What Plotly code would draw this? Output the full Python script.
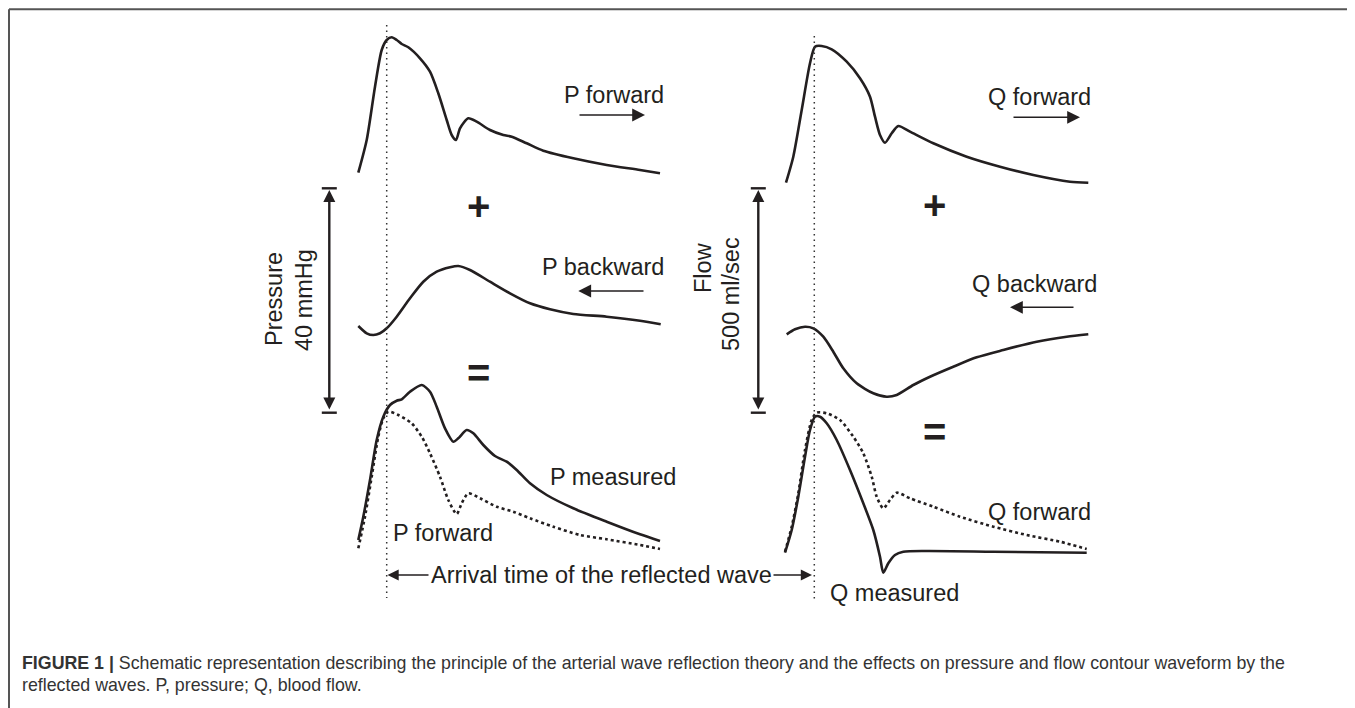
import plotly.graph_objects as go

# ---------------- data (pixel space of the page) ----------------
p_fwd_x = [358.3, 366.7, 375, 381.7, 386.7, 391.7, 396.7, 401.7, 408.3, 420, 430, 438.3, 446.7, 451.7, 456,
           460, 468.3, 476.7, 490, 503.3, 511.7, 526.7, 543.3, 573.3, 606.7, 640, 660]
p_fwd_y = [172.7, 140, 86.7, 50, 40, 37.3, 40, 44, 47.3, 58.3, 71.7, 93.3, 120, 135, 140,
           128.3, 118.3, 121.7, 130, 135, 136.7, 143.3, 150.7, 158.3, 165, 170, 173.3]

q_fwd_x = [786, 793.3, 801.7, 810, 815, 821.7, 831.7, 846.7, 860, 870, 875, 880, 885, 891.7, 898.3,
           910, 933.3, 966.7, 1000, 1033.3, 1070, 1088.3]
q_fwd_y = [182.7, 156.7, 110, 63.3, 46.7, 46, 49.3, 61.7, 78.3, 96.7, 116.7, 135, 142.7, 133.3, 126,
           131.7, 143.3, 156.7, 166.7, 175, 181.7, 182.7]

p_bwd_x = [358.3, 366.7, 373.3, 380, 386.7, 396.7, 410, 423.3, 436.7, 450, 458.3, 470, 490, 510, 530,
           550, 573.3, 606.7, 640, 660.7]
p_bwd_y = [326, 333.3, 335, 333.3, 328.3, 316.7, 298.3, 281.7, 271.7, 267.3, 266, 270, 281.7, 293.3, 303.3,
           309.3, 314, 316.7, 320.7, 324.3]

q_bwd_x = [786.7, 795, 805, 813.3, 823.3, 833.3, 843.3, 856.7, 873.3, 886.7, 896.7, 913.3, 930, 953.3,
           976.7, 1003.3, 1036.7, 1066.7, 1088.3]
q_bwd_y = [334.3, 329.3, 326.7, 328.3, 336.7, 351.7, 368.3, 383.3, 393.3, 396.7, 395, 385, 376.7, 366.7,
           357.3, 350, 341.7, 336.7, 334.3]

p_meas_x = [358.3, 363.3, 370, 376.7, 383.3, 390, 396.7, 401.7, 410, 421.7, 430, 436.7, 445, 453.3, 458.3,
            466.7, 473.3, 483.3, 495, 506.7, 516.7, 530, 546.7, 573.3, 606.7, 640, 660]
p_meas_y = [540, 516.7, 480, 440, 416.7, 405, 400.7, 399.3, 391.7, 385, 391.7, 406.7, 428.3, 441.7, 438.3,
            430, 433.3, 445, 456, 461.7, 470, 483.3, 495, 508.3, 521.7, 534.3, 541]

p_fwd2_x = [358.3, 365, 371.7, 378.3, 383.3, 388.3, 398.3, 411.7, 421.7, 430, 440, 448.3, 456.7, 461.7,
            468.3, 480, 496.7, 513.3, 530, 553.3, 580, 606.7, 640, 660]
p_fwd2_y = [548.3, 516.7, 476.7, 436.7, 418.3, 411.7, 415, 423.3, 436.7, 453.3, 476.7, 500, 514, 503.3,
            493.3, 498.3, 506.7, 511.7, 518.3, 526.7, 535, 539.3, 545, 549]

q_meas_x = [785, 791.7, 798.3, 805, 810, 815, 820, 826.7, 836.7, 850, 863.3, 873.3, 880, 883.3, 888.3,
            895, 903.3, 926.7, 993.3, 1086.7]
q_meas_y = [552.7, 530, 496.7, 456.7, 430, 416.7, 416.7, 423.3, 440, 470, 503.3, 530, 556.7, 572.7, 563.3,
            555, 551.7, 551, 551.7, 552.7]

q_fwd2_x = [785, 791.7, 798.3, 805, 811.7, 816.7, 826.7, 840, 853.3, 863.3, 871.7, 876.7, 883.3, 890,
            896.7, 910, 933.3, 960, 993.3, 1026.7, 1060, 1086.7]
q_fwd2_y = [551.7, 526.7, 493.3, 450, 420, 412.7, 413.3, 420, 436.7, 453.3, 476.7, 496.7, 508.3, 500,
            492.7, 498.3, 506.7, 516.7, 526.7, 535, 541.7, 549]

scale_labels = ["Pressure", "40 mmHg", "Flow", "500 ml/sec"]
curve_labels = ["P forward", "Q forward", "P backward", "Q backward",
                "P measured", "P forward", "Q forward", "Q measured"]
arrival_label = "Arrival time of the reflected wave"
caption_1 = ("<b>FIGURE 1 |</b> Schematic representation describing the principle of the arterial wave "
             "reflection theory and the effects on pressure and flow contour waveform by the")
caption_2 = "reflected waves. P, pressure; Q, blood flow."

# ---------------- styles ----------------
INK = "#231f20"
FONT = "Liberation Sans, Arial, Helvetica, sans-serif"
LW = 2.6
LABEL_SIZE = 23.5
PAGE_OFFSET = 8  # default body margin of the html page

fig = go.Figure()


def curve(x, y, dotted=False):
    fig.add_trace(go.Scatter(
        x=x, y=y, mode="lines", hoverinfo="skip", showlegend=False,
        line=dict(color=INK, width=LW, shape="spline", smoothing=0.7,
                  dash="3px,3px" if dotted else "solid")))


curve(p_fwd_x, p_fwd_y)
curve(q_fwd_x, q_fwd_y)
curve(p_bwd_x, p_bwd_y)
curve(q_bwd_x, q_bwd_y)
curve(p_fwd2_x, p_fwd2_y, dotted=True)
curve(p_meas_x, p_meas_y)
curve(q_fwd2_x, q_fwd2_y, dotted=True)
curve(q_meas_x, q_meas_y)

shapes = []
# frame
shapes.append(dict(type="line", x0=9, x1=1355, y0=9.2, y1=9.2, line=dict(color="#555", width=2)))
shapes.append(dict(type="line", x0=9, x1=9, y0=9.2, y1=708, line=dict(color="#555", width=2)))
# dotted vertical time markers
shapes.append(dict(type="line", x0=386.7, x1=386.7, y0=25, y1=598,
                   line=dict(color="#333", width=1.5, dash="1.5px,4px")))
shapes.append(dict(type="line", x0=814.3, x1=814.3, y0=36, y1=600,
                   line=dict(color="#333", width=1.5, dash="1.5px,4px")))
# end bars of scale arrows
for xc in (329.3, 758.3):
    for yc in (188.3, 412.7):
        shapes.append(dict(type="line", x0=xc - 7.5, x1=xc + 7.5, y0=yc, y1=yc,
                           line=dict(color=INK, width=2.4)))

ann = []


def text(t, x, y, size=LABEL_SIZE, xanchor="left", angle=0, bold=False):
    ann.append(dict(text=f"<b>{t}</b>" if bold else t, x=x, y=y, xref="x", yref="y",
                    showarrow=False, xanchor=xanchor, yanchor="middle", textangle=angle,
                    font=dict(family=FONT, size=size, color=INK)))


def arrow(x_head, y_head, x_tail, y_tail, width=1.6, size=1.6, both=False):
    ann.append(dict(text="", x=x_head, y=y_head, ax=x_tail, ay=y_tail, xref="x", yref="y",
                    axref="x", ayref="y", showarrow=True, arrowhead=2, arrowsize=size,
                    arrowwidth=width, arrowcolor=INK, startarrowhead=2, startarrowsize=size,
                    arrowside="end+start" if both else "end", standoff=0, startstandoff=0))


# curve labels
text(curve_labels[0], 562, 95)
text(curve_labels[1], 986, 97)
text(curve_labels[2], 540, 267)
text(curve_labels[3], 970, 284)
text(curve_labels[4], 548, 477)
text(curve_labels[5], 391, 533)
text(curve_labels[6], 986, 512)
text(curve_labels[7], 828, 593)

# direction arrows
arrow(645, 115, 578, 115)
arrow(1080, 117.3, 1012, 117.3)
arrow(578.3, 291, 645, 291)
arrow(1010, 307.3, 1075, 307.3)

# scale arrows (double headed)
arrow(329.3, 190, 329.3, 411, width=2.4, size=1.0, both=True)
arrow(758.3, 190, 758.3, 411, width=2.4, size=1.0, both=True)

# scale labels
text(scale_labels[0], 274, 299, xanchor="center", angle=-90)
text(scale_labels[1], 304, 300, xanchor="center", angle=-90)
text(scale_labels[2], 703, 268, xanchor="center", angle=-90)
text(scale_labels[3], 731, 294, xanchor="center", angle=-90)

# operators
text("+", 478, 206, size=40, xanchor="center", bold=True)
text("=", 478, 373, size=40, xanchor="center", bold=True)
text("+", 934, 205, size=40, xanchor="center", bold=True)
text("=", 934, 432, size=40, xanchor="center", bold=True)

# arrival time
text(arrival_label, 601.5, 575, xanchor="center")
arrow(387.5, 575, 430, 575, width=1.6, size=1.4)
arrow(812, 575, 772, 575, width=1.6, size=1.4)

# caption
for cap, yc in ((caption_1, 663), (caption_2, 685)):
    ann.append(dict(text=cap, x=20, y=yc, xref="x", yref="y", showarrow=False, xanchor="left",
                    yanchor="middle", font=dict(family=FONT, size=17.8, color="#333")))

fig.update_layout(
    width=1355 - PAGE_OFFSET, height=708 - PAGE_OFFSET, margin=dict(l=0, r=0, t=0, b=0),
    paper_bgcolor="white", plot_bgcolor="white",
    xaxis=dict(range=[PAGE_OFFSET, 1355], visible=False, fixedrange=True),
    yaxis=dict(range=[708, PAGE_OFFSET], visible=False, fixedrange=True),
    shapes=shapes, annotations=ann,
)

fig.write_html("out.html")
